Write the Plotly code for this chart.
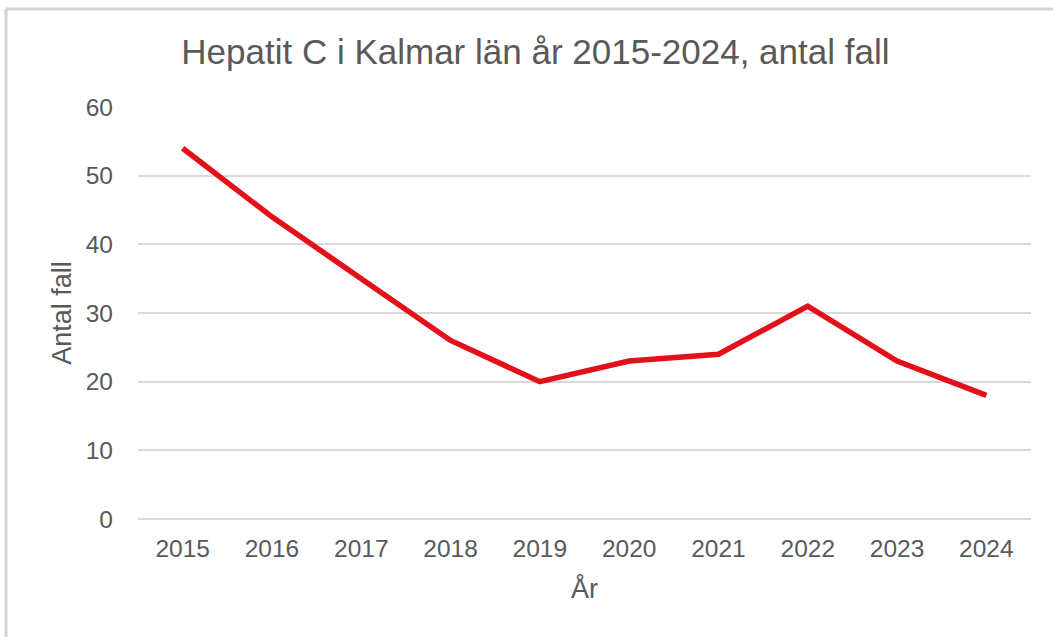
import plotly.graph_objects as go

years = ["2015", "2016", "2017", "2018", "2019", "2020", "2021", "2022", "2023", "2024"]
cases = [54, 44, 35, 26, 20, 23, 24, 31, 23, 18]
y_ticks = [0, 10, 20, 30, 40, 50, 60]

grey = "#595959"
font = "Liberation Sans, Arial, sans-serif"

fig = go.Figure()
fig.add_trace(go.Scatter(x=years, y=cases, mode="lines",
                         line=dict(color="#E3101A", width=5.5)))

fig.update_layout(
    width=1053, height=637,
    margin=dict(l=138, r=22, t=107, b=118),
    paper_bgcolor="white", plot_bgcolor="white",
    showlegend=False,
    font=dict(family=font, color=grey),
    title=dict(text="Hepatit C i Kalmar län år 2015-2024, antal fall",
               x=0.445, xanchor="center", y=0.918, yanchor="middle",
               xref="paper", font=dict(size=35, color=grey)),
)
fig.update_xaxes(type="category", range=[-0.5, 9.5], showgrid=False,
                 showline=False, ticks="", ticklabelstandoff=12,
                 tickfont=dict(size=24.5, color=grey),
                 title=dict(text="År", font=dict(size=27, color=grey), standoff=18))
fig.update_yaxes(range=[0, 60], tickvals=y_ticks, showgrid=True,
                 gridcolor="#d9d9d9", gridwidth=1.5, zeroline=True,
                 zerolinecolor="#d9d9d9", zerolinewidth=1.5,
                 ticks="", ticklabelstandoff=24,
                 tickfont=dict(size=24.5, color=grey),
                 title=dict(text="Antal fall", font=dict(size=27, color=grey), standoff=6))

# light frame around the chart (only left and top edges fall inside the picture)
frame_x = (6 - 138) / 893
frame_y = (519 - 9) / 412
fig.add_shape(type="line", xref="paper", yref="paper",
              x0=frame_x, x1=1.1, y0=frame_y, y1=frame_y,
              line=dict(color="#d4d4d4", width=3))
fig.add_shape(type="line", xref="paper", yref="paper",
              x0=frame_x, x1=frame_x, y0=-0.5, y1=frame_y,
              line=dict(color="#d4d4d4", width=3))

fig.write_html("out.html", config={"displayModeBar": False},
               post_script="document.body.style.margin='0';")
